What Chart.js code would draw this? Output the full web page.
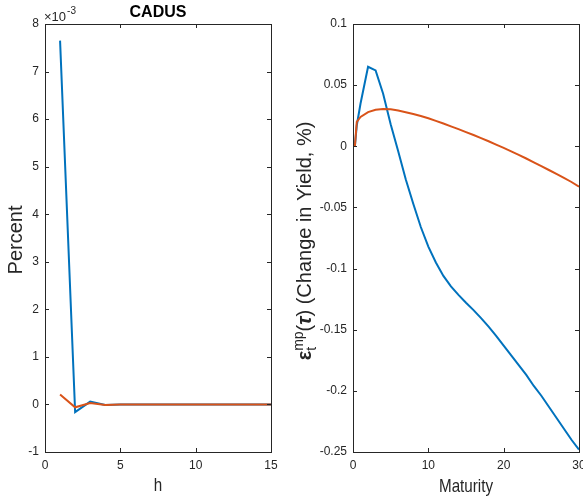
<!DOCTYPE html>
<html>
<head>
<meta charset="utf-8">
<script src="https://cdn.jsdelivr.net/npm/chart.js@4.4.1/dist/chart.umd.min.js"></script>
<style>
html,body{margin:0;padding:0;background:#fff;}
#wrap{position:relative;width:583px;height:502px;overflow:hidden;}
canvas{position:absolute;top:0;}
</style>
</head>
<body>
<div id="wrap">
<canvas id="irf" width="290" height="502" style="left:0"></canvas>
<canvas id="curve" width="293" height="502" style="left:290px"></canvas>
</div>
<script>
// impulse responses by horizon
const horizons=[1,2,3,4,5,6,7,8,9,10,11,12,13,14,15];
const irfBlue=[7.65e-3,-0.16e-3,0.06e-3,-0.01e-3,0,0,0,0,0,0,0,0,0,0,0];
const irfOrange=[0.21e-3,-0.06e-3,0.03e-3,-0.01e-3,0,0,0,0,0,0,0,0,0,0,0];
const irfYTicks=[-1e-3,0,1e-3,2e-3,3e-3,4e-3,5e-3,6e-3,7e-3,8e-3];

// yield change by maturity (years)
const maturities=[0.25,0.5,1,2,3,4,5,6,7,8,9,10,11,12,13,14,15,16,17,18,19,20,21,22,23,24,25,26,27,28,29,30];
const yldBlue=[0,0.017,0.035,0.065,0.062,0.043,0.018,-0.004,-0.027,-0.047,-0.066,-0.082,-0.095,-0.106,-0.1145,-0.1215,-0.128,-0.134,-0.1405,-0.1475,-0.155,-0.163,-0.171,-0.179,-0.187,-0.196,-0.204,-0.213,-0.222,-0.231,-0.240,-0.248];
const yldOrange=[0,0.020,0.024,0.028,0.0298,0.0305,0.0302,0.0292,0.0279,0.0264,0.0248,0.0229,0.0208,0.0186,0.0163,0.0140,0.0116,0.0092,0.0067,0.0041,0.0014,-0.0013,-0.0041,-0.0070,-0.0100,-0.0131,-0.0162,-0.0194,-0.0226,-0.0259,-0.0292,-0.0330];

const BLUE='#0072BD',ORANGE='#D95319',INK='#262626';
const FONT='"Liberation Sans", Arial, Helvetica, sans-serif';

const pts=(xs,ys)=>xs.map((x,i)=>({x,y:ys[i]}));
// second series is drawn on top of the first
const line=(data,color,order)=>({data,order,borderColor:color,borderWidth:2,pointRadius:0,tension:0,fill:false});

// matlab style box with inward ticks on all four sides
const boxTicks={id:'boxTicks',afterDatasetsDraw(chart){
  const {ctx,chartArea:a,scales:{x,y}}=chart;const L=4;
  ctx.save();ctx.strokeStyle=INK;ctx.lineWidth=1;
  ctx.strokeRect(Math.round(a.left)+0.5,Math.round(a.top)+0.5,Math.round(a.right-a.left),Math.round(a.bottom-a.top));
  ctx.beginPath();
  x.ticks.forEach(t=>{const p=Math.round(x.getPixelForValue(t.value))+0.5;ctx.moveTo(p,a.bottom);ctx.lineTo(p,a.bottom-L);ctx.moveTo(p,a.top);ctx.lineTo(p,a.top+L);});
  y.ticks.forEach(t=>{const p=Math.round(y.getPixelForValue(t.value))+0.5;ctx.moveTo(a.left,p);ctx.lineTo(a.left+L,p);ctx.moveTo(a.right,p);ctx.lineTo(a.right-L,p);});
  ctx.stroke();ctx.restore();
}};

function fixed(w,h){return s=>{if(w!=null)s.width=w;if(h!=null)s.height=h;s.paddingLeft=0;s.paddingRight=0;s.paddingTop=0;s.paddingBottom=0;};}

function opts(xmin,xmax,xstep,ymin,ymax,ystep,yfmt,yw,pad){
  const tickFont={family:FONT,size:12};
  return {responsive:false,animation:false,
    layout:{padding:pad},
    plugins:{legend:{display:false},tooltip:{enabled:false}},
    scales:{
      x:{type:'linear',min:xmin,max:xmax,grid:{display:false,drawTicks:false},border:{display:false},afterFit:fixed(null,50),
        ticks:{stepSize:xstep,autoSkip:false,maxRotation:0,padding:6,color:INK,font:tickFont}},
      y:{type:'linear',min:ymin,max:ymax,grid:{display:false,drawTicks:false},border:{display:false},afterFit:fixed(yw,null),
        ticks:{stepSize:ystep,autoSkip:false,padding:6,color:INK,font:tickFont,callback:yfmt}}
    }};
}

// horizontal label, slightly condensed
function xLabel(ctx,text,cx,base){
  ctx.save();ctx.fillStyle=INK;ctx.textAlign='center';ctx.textBaseline='alphabetic';
  ctx.font='19px '+FONT;ctx.translate(cx,base);ctx.scale(0.8,1);ctx.fillText(text,0,0);ctx.restore();
}

const irfLabels={id:'irfLabels',afterDraw(chart){
  const {ctx,chartArea:a}=chart;const cx=(a.left+a.right)/2;
  ctx.save();ctx.fillStyle='#000';ctx.textAlign='center';ctx.textBaseline='alphabetic';
  ctx.font='bold 16px '+FONT;ctx.fillText('CADUS',cx,17);
  ctx.fillStyle=INK;ctx.textAlign='left';ctx.font='13px '+FONT;ctx.fillText('\u00d710',a.left-1,21);
  const w=ctx.measureText('\u00d710').width;ctx.font='10px '+FONT;ctx.fillText('-3',a.left+w,14);
  ctx.font='20px '+FONT;ctx.textAlign='center';
  ctx.translate(22,240);ctx.rotate(-Math.PI/2);ctx.fillText('Percent',0,0);
  ctx.restore();
  xLabel(ctx,'h',cx,491);
}};

const curveLabels={id:'curveLabels',afterDraw(chart){
  const {ctx,chartArea:a}=chart;const cx=(a.left+a.right)/2;
  xLabel(ctx,'Maturity',cx,492);
  // rotated axis title with super/subscripts
  const parts=[
    {t:'\u03b5',f:'bold 20px '+FONT,dy:0},
    {t:'mp',f:'14px '+FONT,dy:-8,sub:'t'},
    {t:'(',f:'20px '+FONT,dy:0},
    {t:'\u03c4',f:'bold italic 20px '+FONT,dy:0},
    {t:') (Change in Yield, %)',f:'20px '+FONT,dy:0}
  ];
  ctx.save();ctx.fillStyle=INK;ctx.textBaseline='alphabetic';ctx.textAlign='left';
  let total=0;parts.forEach(p=>{ctx.font=p.f;p.w=ctx.measureText(p.t).width;total+=p.w;});
  ctx.translate(21,241);ctx.rotate(-Math.PI/2);
  let px=-total/2;
  parts.forEach(p=>{ctx.font=p.f;ctx.fillText(p.t,px,p.dy);if(p.sub){ctx.fillText(p.sub,px,5);}px+=p.w;});
  ctx.restore();
}};

new Chart(document.getElementById('irf'),{
  type:'line',
  data:{datasets:[line(pts(horizons,irfBlue),BLUE,1),line(pts(horizons,irfOrange),ORANGE,0)]},
  options:opts(0,15,5,irfYTicks[0],irfYTicks[irfYTicks.length-1],1e-3,v=>String(Math.round(v*1000)),45,{left:0,right:19,top:24,bottom:0}),
  plugins:[boxTicks,irfLabels]
});

new Chart(document.getElementById('curve'),{
  type:'line',
  data:{datasets:[line(pts(maturities,yldBlue),BLUE,1),line(pts(maturities,yldOrange),ORANGE,0)]},
  options:opts(0,30,10,-0.25,0.1,0.05,v=>String(parseFloat(v.toFixed(2))),63,{left:0,right:4,top:24,bottom:0}),
  plugins:[boxTicks,curveLabels]
});
</script>
</body>
</html>
